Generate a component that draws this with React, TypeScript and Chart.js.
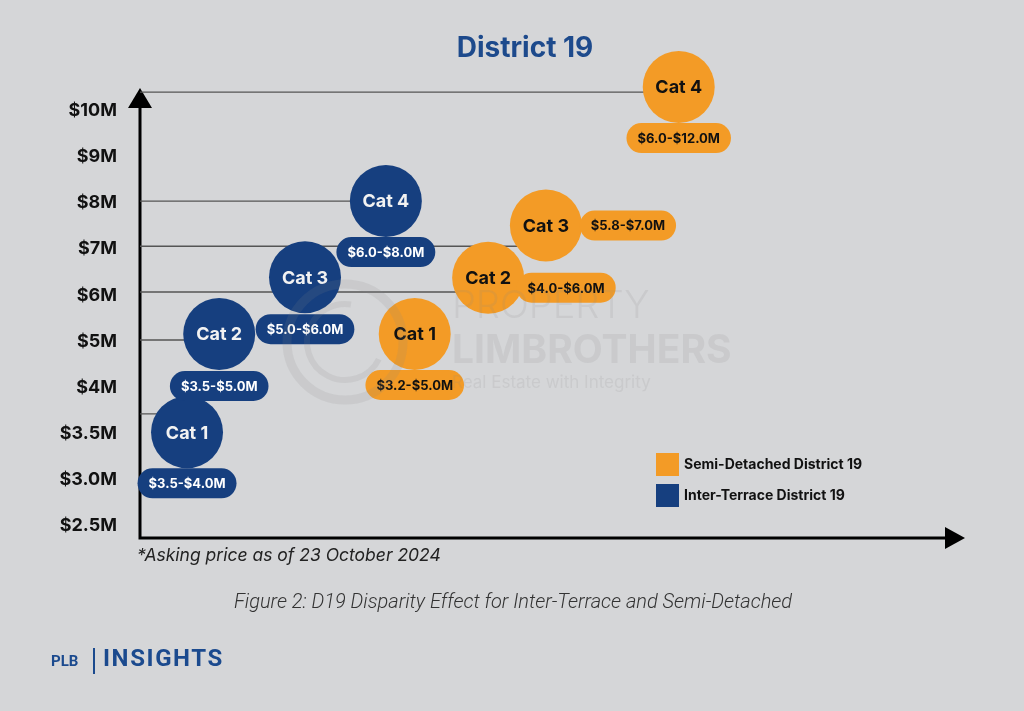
import React, { useEffect, useRef } from "react";
import { Chart, registerables } from "chart.js";

Chart.register(...registerables);

// ---------- data ----------
const yTickLabels = ["$2.5M", "$3.0M", "$3.5M", "$4M", "$5M", "$6M", "$7M", "$8M", "$9M", "$10M"];
const categories = ["Cat 1", "Cat 2", "Cat 3", "Cat 4"];

const interX = [5.7, 9.6, 20.0, 29.8];
const interY = [2.03, 4.16, 5.39, 7.04];
const interRanges = ["$3.5-$4.0M", "$3.5-$5.0M", "$5.0-$6.0M", "$6.0-$8.0M"];

const semiX = [33.3, 42.2, 49.2, 65.3];
const semiY = [4.16, 5.38, 6.51, 9.51];
const semiRanges = ["$3.2-$5.0M", "$4.0-$6.0M", "$5.8-$7.0M", "$6.0-$12.0M"];

const guideLevels = [9.4, 7.04, 6.06, 5.07, 4.03, 2.43];
const guideEnds = [65.3, 29.8, 49.2, 42.2, 9.6, 5.7];

const seriesNames = ["Inter-Terrace District 19", "Semi-Detached District 19"];

// ---------- style / layout (not data) ----------
const NAVY = "#163f7f";
const ORANGE = "#f39b26";
const BG = "#d5d6d8";
const FONT = "Inter, 'Noto Sans', sans-serif";
const BUBBLE_R = 36;
const interPillOffset: [number, number][] = [[0, 51], [0, 52], [0, 52], [0, 51]];
const semiPillOffset: [number, number][] = [[0, 51], [78, 10], [82, 0], [0, 51]];

function pillPath(ctx: CanvasRenderingContext2D, x: number, y: number, w: number, h: number) {
  const r = h / 2;
  ctx.beginPath();
  ctx.moveTo(x + r, y);
  ctx.lineTo(x + w - r, y);
  ctx.arc(x + w - r, y + r, r, -Math.PI / 2, Math.PI / 2);
  ctx.lineTo(x + r, y + h);
  ctx.arc(x + r, y + r, r, Math.PI / 2, (3 * Math.PI) / 2);
  ctx.closePath();
}

function drawPill(ctx: CanvasRenderingContext2D, cx: number, cy: number, text: string, fill: string, color: string) {
  ctx.font = `700 13px ${FONT}`;
  const w = ctx.measureText(text).width + 22;
  const h = 30;
  pillPath(ctx, cx - w / 2, cy - h / 2, w, h);
  ctx.fillStyle = fill;
  ctx.fill();
  ctx.fillStyle = color;
  ctx.textAlign = "center";
  ctx.textBaseline = "middle";
  ctx.fillText(text, cx, cy + 1);
}

const axesPlugin = {
  id: "axesArrows",
  beforeDatasetsDraw(chart: any) {
    const { ctx, chartArea } = chart;
    const { left, right, top, bottom } = chartArea;
    ctx.save();
    ctx.strokeStyle = "#000";
    ctx.fillStyle = "#000";
    ctx.lineWidth = 3;
    ctx.beginPath();
    ctx.moveTo(left, bottom + 1.5);
    ctx.lineTo(left, top + 12);
    ctx.moveTo(left - 1.5, bottom);
    ctx.lineTo(right - 12, bottom);
    ctx.stroke();
    ctx.beginPath();
    ctx.moveTo(left, top);
    ctx.lineTo(left - 12, top + 20);
    ctx.lineTo(left + 12, top + 20);
    ctx.closePath();
    ctx.fill();
    ctx.beginPath();
    ctx.moveTo(right, bottom);
    ctx.lineTo(right - 20, bottom - 11);
    ctx.lineTo(right - 20, bottom + 11);
    ctx.closePath();
    ctx.fill();
    ctx.restore();
  },
};

const labelsPlugin = {
  id: "bubbleLabels",
  afterDatasetsDraw(chart: any) {
    const { ctx } = chart;
    ctx.save();
    const sets = [
      { idx: 0, ranges: interRanges, off: interPillOffset, fill: NAVY, color: "#ffffff", txt: "#f2f2f2" },
      { idx: 1, ranges: semiRanges, off: semiPillOffset, fill: ORANGE, color: "#111111", txt: "#111111" },
    ];
    sets.forEach((s) => {
      const meta = chart.getDatasetMeta(s.idx);
      meta.data.forEach((el: any, j: number) => {
        const [dx, dy] = s.off[j];
        drawPill(ctx, el.x + dx, el.y + dy, s.ranges[j], s.fill, s.color);
      });
    });
    sets.forEach((s) => {
      const meta = chart.getDatasetMeta(s.idx);
      meta.data.forEach((el: any, j: number) => {
        ctx.font = `700 18px ${FONT}`;
        ctx.fillStyle = s.txt;
        ctx.textAlign = "center";
        ctx.textBaseline = "middle";
        ctx.fillText(categories[j], el.x, el.y + 1);
      });
    });
    ctx.restore();
  },
};

const decorPlugin = {
  id: "decor",
  afterDraw(chart: any) {
    const { ctx, chartArea } = chart;
    ctx.save();
    // watermark
    ctx.globalAlpha = 0.14;
    ctx.strokeStyle = "#8a8a8a";
    ctx.fillStyle = "#8a8a8a";
    ctx.lineWidth = 9;
    ctx.beginPath();
    ctx.arc(345, 342, 58, 0, Math.PI * 2);
    ctx.stroke();
    ctx.lineWidth = 6;
    ctx.beginPath();
    ctx.arc(345, 342, 38, Math.PI * 0.15, Math.PI * 1.55);
    ctx.stroke();
    ctx.textAlign = "left";
    ctx.textBaseline = "alphabetic";
    ctx.font = `300 38px ${FONT}`;
    ctx.fillText("PROPERTY", 452, 318);
    ctx.font = `700 39px ${FONT}`;
    ctx.fillText("LIMBROTHERS", 452, 363);
    ctx.font = `400 17px ${FONT}`;
    ctx.fillText("Real Estate with Integrity", 452, 388);
    ctx.globalAlpha = 1;

    // title
    ctx.fillStyle = "#1d4a8c";
    ctx.font = `700 28px ${FONT}`;
    ctx.textAlign = "center";
    ctx.textBaseline = "middle";
    ctx.fillText("District 19", 525, 49);

    // legend
    const lx = chartArea.right - 309;
    const items = [
      { c: ORANGE, t: seriesNames[1], y: 453 },
      { c: NAVY, t: seriesNames[0], y: 484 },
    ];
    items.forEach((it) => {
      ctx.fillStyle = it.c;
      ctx.fillRect(lx, it.y, 23, 23);
      ctx.fillStyle = "#111";
      ctx.font = `700 14px ${FONT}`;
      ctx.textAlign = "left";
      ctx.textBaseline = "middle";
      ctx.fillText(it.t, lx + 28, it.y + 12);
    });

    // footnote
    ctx.fillStyle = "#222";
    ctx.font = `italic 400 17.5px ${FONT}`;
    ctx.textAlign = "left";
    ctx.textBaseline = "middle";
    ctx.fillText("*Asking price as of 23 October 2024", 137, 556);

    // caption
    ctx.fillStyle = "#333";
    ctx.font = `italic 300 20px Roboto, ${FONT}`;
    ctx.textAlign = "center";
    ctx.fillText("Figure 2: D19 Disparity Effect for Inter-Terrace and Semi-Detached", 513, 603);

    // logo
    ctx.fillStyle = "#1b4a8e";
    ctx.textAlign = "left";
    ctx.font = `700 15px Roboto, ${FONT}`;
    ctx.fillText("PLB", 51, 662);
    ctx.fillRect(93, 648, 2, 26);
    ctx.font = `700 24px Roboto, ${FONT}`;
    (ctx as any).letterSpacing = "1.6px";
    ctx.fillText("INSIGHTS", 103, 660);
    (ctx as any).letterSpacing = "0px";
    ctx.restore();
  },
};

export default function App() {
  const ref = useRef<HTMLCanvasElement | null>(null);

  useEffect(() => {
    if (!ref.current) return;
    const guideSets = guideLevels.map((lvl, i) => ({
      type: "line" as const,
      data: [
        { x: 0, y: lvl },
        { x: guideEnds[i], y: lvl },
      ],
      borderColor: "#555",
      borderWidth: 1.4,
      pointRadius: 0,
      order: 10,
      clip: false as any,
    }));
    const chart = new Chart(ref.current, {
      type: "bubble",
      data: {
        datasets: [
          {
            label: seriesNames[0],
            data: interX.map((x, i) => ({ x, y: interY[i] })),
            backgroundColor: NAVY,
            borderWidth: 0,
            radius: BUBBLE_R,
            hoverRadius: 0,
            order: 1,
            clip: false as any,
          } as any,
          {
            label: seriesNames[1],
            data: semiX.map((x, i) => ({ x, y: semiY[i] })),
            backgroundColor: ORANGE,
            borderWidth: 0,
            radius: BUBBLE_R,
            hoverRadius: 0,
            order: 2,
            clip: false as any,
          } as any,
          ...(guideSets as any[]),
        ],
      },
      options: {
        animation: false,
        responsive: false,
        devicePixelRatio: 1,
        layout: { padding: { left: 0, right: 59, top: 88, bottom: 173 } },
        plugins: { legend: { display: false }, tooltip: { enabled: false } },
        events: [],
        scales: {
          x: { type: "linear", display: false, min: 0, max: 100 },
          y: {
            type: "linear",
            min: -0.26,
            max: 9.49,
            grid: { display: false, drawTicks: false },
            border: { display: false },
            afterBuildTicks: (s: any) => {
              s.ticks = yTickLabels.map((_, i) => ({ value: i }));
            },
            afterFit: (s: any) => {
              s.width = 140;
            },
            ticks: {
              callback: (v: any) => yTickLabels[Math.round(Number(v))] ?? "",
              padding: 23,
              color: "#111",
              font: { family: FONT, weight: "bold", size: 18 },
            },
          } as any,
        },
      },
      plugins: [axesPlugin, labelsPlugin, decorPlugin],
    });
    return () => chart.destroy();
  }, []);

  return (
    <div style={{ position: "fixed", left: 0, top: 0, width: 1024, height: 711, background: BG }}>
      <canvas ref={ref} width={1024} height={711} style={{ display: "block" }} />
    </div>
  );
}
